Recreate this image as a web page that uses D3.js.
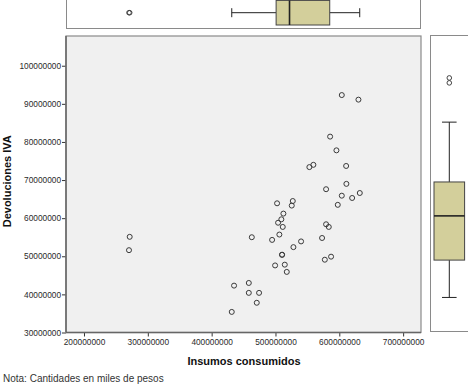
<!DOCTYPE html>
<html>
<head>
<meta charset="utf-8">
<script src="https://cdn.jsdelivr.net/npm/d3@7"></script>
<style>
  html, body { margin: 0; padding: 0; background: #ffffff; }
  svg { display: block; font-family: "Liberation Sans", Arial, sans-serif; }
</style>
</head>
<body>
<svg id="chart" width="468" height="385"></svg>
<script>
// Insumos consumidos (x) y Devoluciones IVA (y), en miles de pesos
const insumos = [
  603.9e6, 630.0e6, 585.6e6, 595.5e6, 559.4e6, 553.1e6, 610.7e6, 611.1e6, 579.3e6, 603.9e6,
  632.1e6, 620.1e6, 597.6e6, 502.5e6, 527.1e6, 525.5e6, 512.4e6, 509.2e6, 504.1e6, 511.4e6,
  506.1e6, 494.7e6, 462.9e6, 540.1e6, 528.1e6, 573.0e6, 579.3e6, 583.5e6, 510.3e6, 510.3e6,
  499.4e6, 514.6e6, 517.7e6, 577.3e6, 587.1e6, 435.1e6, 458.2e6, 458.2e6, 474.3e6, 470.7e6,
  431.5e6, 271.6e6, 270.5e6
];
const devoluciones = [
  92.3e6, 91.1e6, 81.4e6, 77.8e6, 74.0e6, 73.4e6, 73.7e6, 69.0e6, 67.6e6, 65.9e6,
  66.6e6, 65.3e6, 63.5e6, 63.9e6, 64.5e6, 63.3e6, 61.2e6, 59.7e6, 58.8e6, 57.7e6,
  55.7e6, 54.3e6, 55.0e6, 53.9e6, 52.4e6, 54.8e6, 58.4e6, 57.7e6, 50.4e6, 50.4e6,
  47.6e6, 47.8e6, 45.9e6, 49.1e6, 49.9e6, 42.3e6, 43.0e6, 40.4e6, 40.4e6, 37.8e6,
  35.4e6, 55.1e6, 51.6e6
];

// Resumen de los diagramas de caja marginales: [bigote inf, Q1, mediana, Q3, bigote sup]
const cajaInsumos = [431.5e6, 501e6, 522e6, 585e6, 632e6];
const atipicosInsumos = [271.6e6, 270.5e6];
const cajaDevoluciones = [39.2e6, 49.0e6, 60.6e6, 69.5e6, 85.2e6];
const atipicosDevoluciones = [96.8e6, 95.5e6];

const xTicks = [200e6, 300e6, 400e6, 500e6, 600e6, 700e6];
const yTicks = [30e6, 40e6, 50e6, 60e6, 70e6, 80e6, 90e6, 100e6];

const xTitle = "Insumos consumidos";
const yTitle = "Devoluciones IVA";
const nota = "Nota: Cantidades en miles de pesos";

const svg = d3.select("#chart");

// Main scatter panel
const plot = { left: 66, top: 36, right: 421, bottom: 332.5 };
const x = d3.scaleLinear().domain([171.8e6, 728e6]).range([plot.left, plot.right]);
const y = d3.scaleLinear().domain([30e6, 107.8e6]).range([plot.bottom, plot.top]);

const boxFill = "#d3cf9b";
const ink = "#222222";

// --- top marginal box plot (x) ---
const topPanel = { top: -6, bottom: 28.5 };
svg.append("rect")
  .attr("x", plot.left + 0.5).attr("y", topPanel.top)
  .attr("width", plot.right - plot.left - 1).attr("height", topPanel.bottom - topPanel.top)
  .attr("fill", "#ffffff").attr("stroke", "#8a8a8a").attr("stroke-width", 1);

const cyTop = 12.7, hTop = 12.3;
const [xl, xq1, xmed, xq3, xh] = cajaInsumos;
const topG = svg.append("g");
topG.append("line").attr("x1", x(xl)).attr("x2", x(xq1)).attr("y1", cyTop).attr("y2", cyTop)
  .attr("stroke", ink).attr("stroke-width", 1);
topG.append("line").attr("x1", x(xq3)).attr("x2", x(xh)).attr("y1", cyTop).attr("y2", cyTop)
  .attr("stroke", ink).attr("stroke-width", 1);
[xl, xh].forEach(v => topG.append("line")
  .attr("x1", x(v)).attr("x2", x(v)).attr("y1", cyTop - 4.5).attr("y2", cyTop + 4.5)
  .attr("stroke", ink).attr("stroke-width", 1));
topG.append("rect").attr("x", x(xq1)).attr("y", cyTop - hTop)
  .attr("width", x(xq3) - x(xq1)).attr("height", 2 * hTop)
  .attr("fill", boxFill).attr("stroke", "#444").attr("stroke-width", 1);
topG.append("line").attr("x1", x(xmed)).attr("x2", x(xmed))
  .attr("y1", cyTop - hTop).attr("y2", cyTop + hTop)
  .attr("stroke", ink).attr("stroke-width", 1.6);
topG.selectAll("circle.out").data(atipicosInsumos).join("circle")
  .attr("cx", d => x(d)).attr("cy", cyTop).attr("r", 2.3)
  .attr("fill", "none").attr("stroke", "#444").attr("stroke-width", 1);

// --- right marginal box plot (y) ---
const rightPanel = { left: 430.5, right: 470 };
svg.append("rect")
  .attr("x", rightPanel.left).attr("y", plot.top - 0.5)
  .attr("width", rightPanel.right - rightPanel.left).attr("height", plot.bottom - plot.top - 0.5)
  .attr("fill", "#ffffff").attr("stroke", "#8a8a8a").attr("stroke-width", 1);

const cxR = 449.3, wR = 15.3;
const [yl, yq1, ymed, yq3, yh] = cajaDevoluciones;
const rG = svg.append("g");
rG.append("line").attr("x1", cxR).attr("x2", cxR).attr("y1", y(yh)).attr("y2", y(yq3))
  .attr("stroke", ink).attr("stroke-width", 1);
rG.append("line").attr("x1", cxR).attr("x2", cxR).attr("y1", y(yq1)).attr("y2", y(yl))
  .attr("stroke", ink).attr("stroke-width", 1);
[yl, yh].forEach(v => rG.append("line")
  .attr("x1", cxR - 7.3).attr("x2", cxR + 7.3).attr("y1", y(v)).attr("y2", y(v))
  .attr("stroke", ink).attr("stroke-width", 1));
rG.append("rect").attr("x", cxR - wR).attr("y", y(yq3))
  .attr("width", 2 * wR).attr("height", y(yq1) - y(yq3))
  .attr("fill", boxFill).attr("stroke", "#444").attr("stroke-width", 1);
rG.append("line").attr("x1", cxR - wR).attr("x2", cxR + wR)
  .attr("y1", y(ymed)).attr("y2", y(ymed))
  .attr("stroke", ink).attr("stroke-width", 1.6);
rG.selectAll("circle.out").data(atipicosDevoluciones).join("circle")
  .attr("cx", cxR).attr("cy", d => y(d)).attr("r", 2.3)
  .attr("fill", "none").attr("stroke", "#444").attr("stroke-width", 1);

// --- main scatter panel ---
svg.append("rect")
  .attr("x", plot.left).attr("y", plot.top)
  .attr("width", plot.right - plot.left).attr("height", plot.bottom - plot.top)
  .attr("fill", "#f0f0f0");

const xAxis = svg.append("g")
  .attr("transform", `translate(0,${plot.bottom})`)
  .call(d3.axisBottom(x).tickValues(xTicks).tickFormat(d3.format("d")).tickSize(4).tickSizeOuter(0));
const yAxis = svg.append("g")
  .attr("transform", `translate(${plot.left},0)`)
  .call(d3.axisLeft(y).tickValues(yTicks).tickFormat(d3.format("d")).tickSize(4).tickSizeOuter(0));

[xAxis, yAxis].forEach(g => {
  g.select(".domain").remove();
  g.selectAll(".tick line").attr("stroke", "#333").attr("stroke-width", 1);
  g.selectAll(".tick text").attr("fill", "#2a2a2a")
    .style("font-size", "8.3px").style("font-family", "'Liberation Sans', Arial, sans-serif");
});
xAxis.selectAll(".tick text").attr("dy", "0.71em").attr("y", 7);
yAxis.selectAll(".tick text").attr("x", -5);

// Panel frame: darker left/bottom axis lines, lighter top/right
svg.append("rect")
  .attr("x", plot.left).attr("y", plot.top)
  .attr("width", plot.right - plot.left).attr("height", plot.bottom - plot.top)
  .attr("fill", "none").attr("stroke", "#8a8a8a").attr("stroke-width", 1.2);
svg.append("line").attr("x1", plot.left).attr("x2", plot.left)
  .attr("y1", plot.top).attr("y2", plot.bottom).attr("stroke", "#666").attr("stroke-width", 1.5);
svg.append("line").attr("x1", plot.left).attr("x2", plot.right)
  .attr("y1", plot.bottom).attr("y2", plot.bottom).attr("stroke", "#666").attr("stroke-width", 1.5);

svg.append("g").selectAll("circle").data(insumos).join("circle")
  .attr("cx", (d, i) => x(d)).attr("cy", (d, i) => y(devoluciones[i]))
  .attr("r", 2.5)
  .attr("fill", "none").attr("stroke", "#3a3a3a").attr("stroke-width", 1);

// Titles
svg.append("text")
  .attr("x", 244).attr("y", 364.5).attr("text-anchor", "middle")
  .style("font-size", "11px").style("font-weight", "bold").attr("fill", "#111")
  .text(xTitle);
svg.append("text")
  .attr("transform", `translate(11,${(plot.top + plot.bottom) / 2 - 3}) rotate(-90)`)
  .attr("text-anchor", "middle")
  .style("font-size", "11px").style("font-weight", "bold").attr("fill", "#111")
  .text(yTitle);

svg.append("text")
  .attr("x", 3).attr("y", 382)
  .style("font-size", "10px").attr("fill", "#333")
  .text(nota);
</script>
</body>
</html>
